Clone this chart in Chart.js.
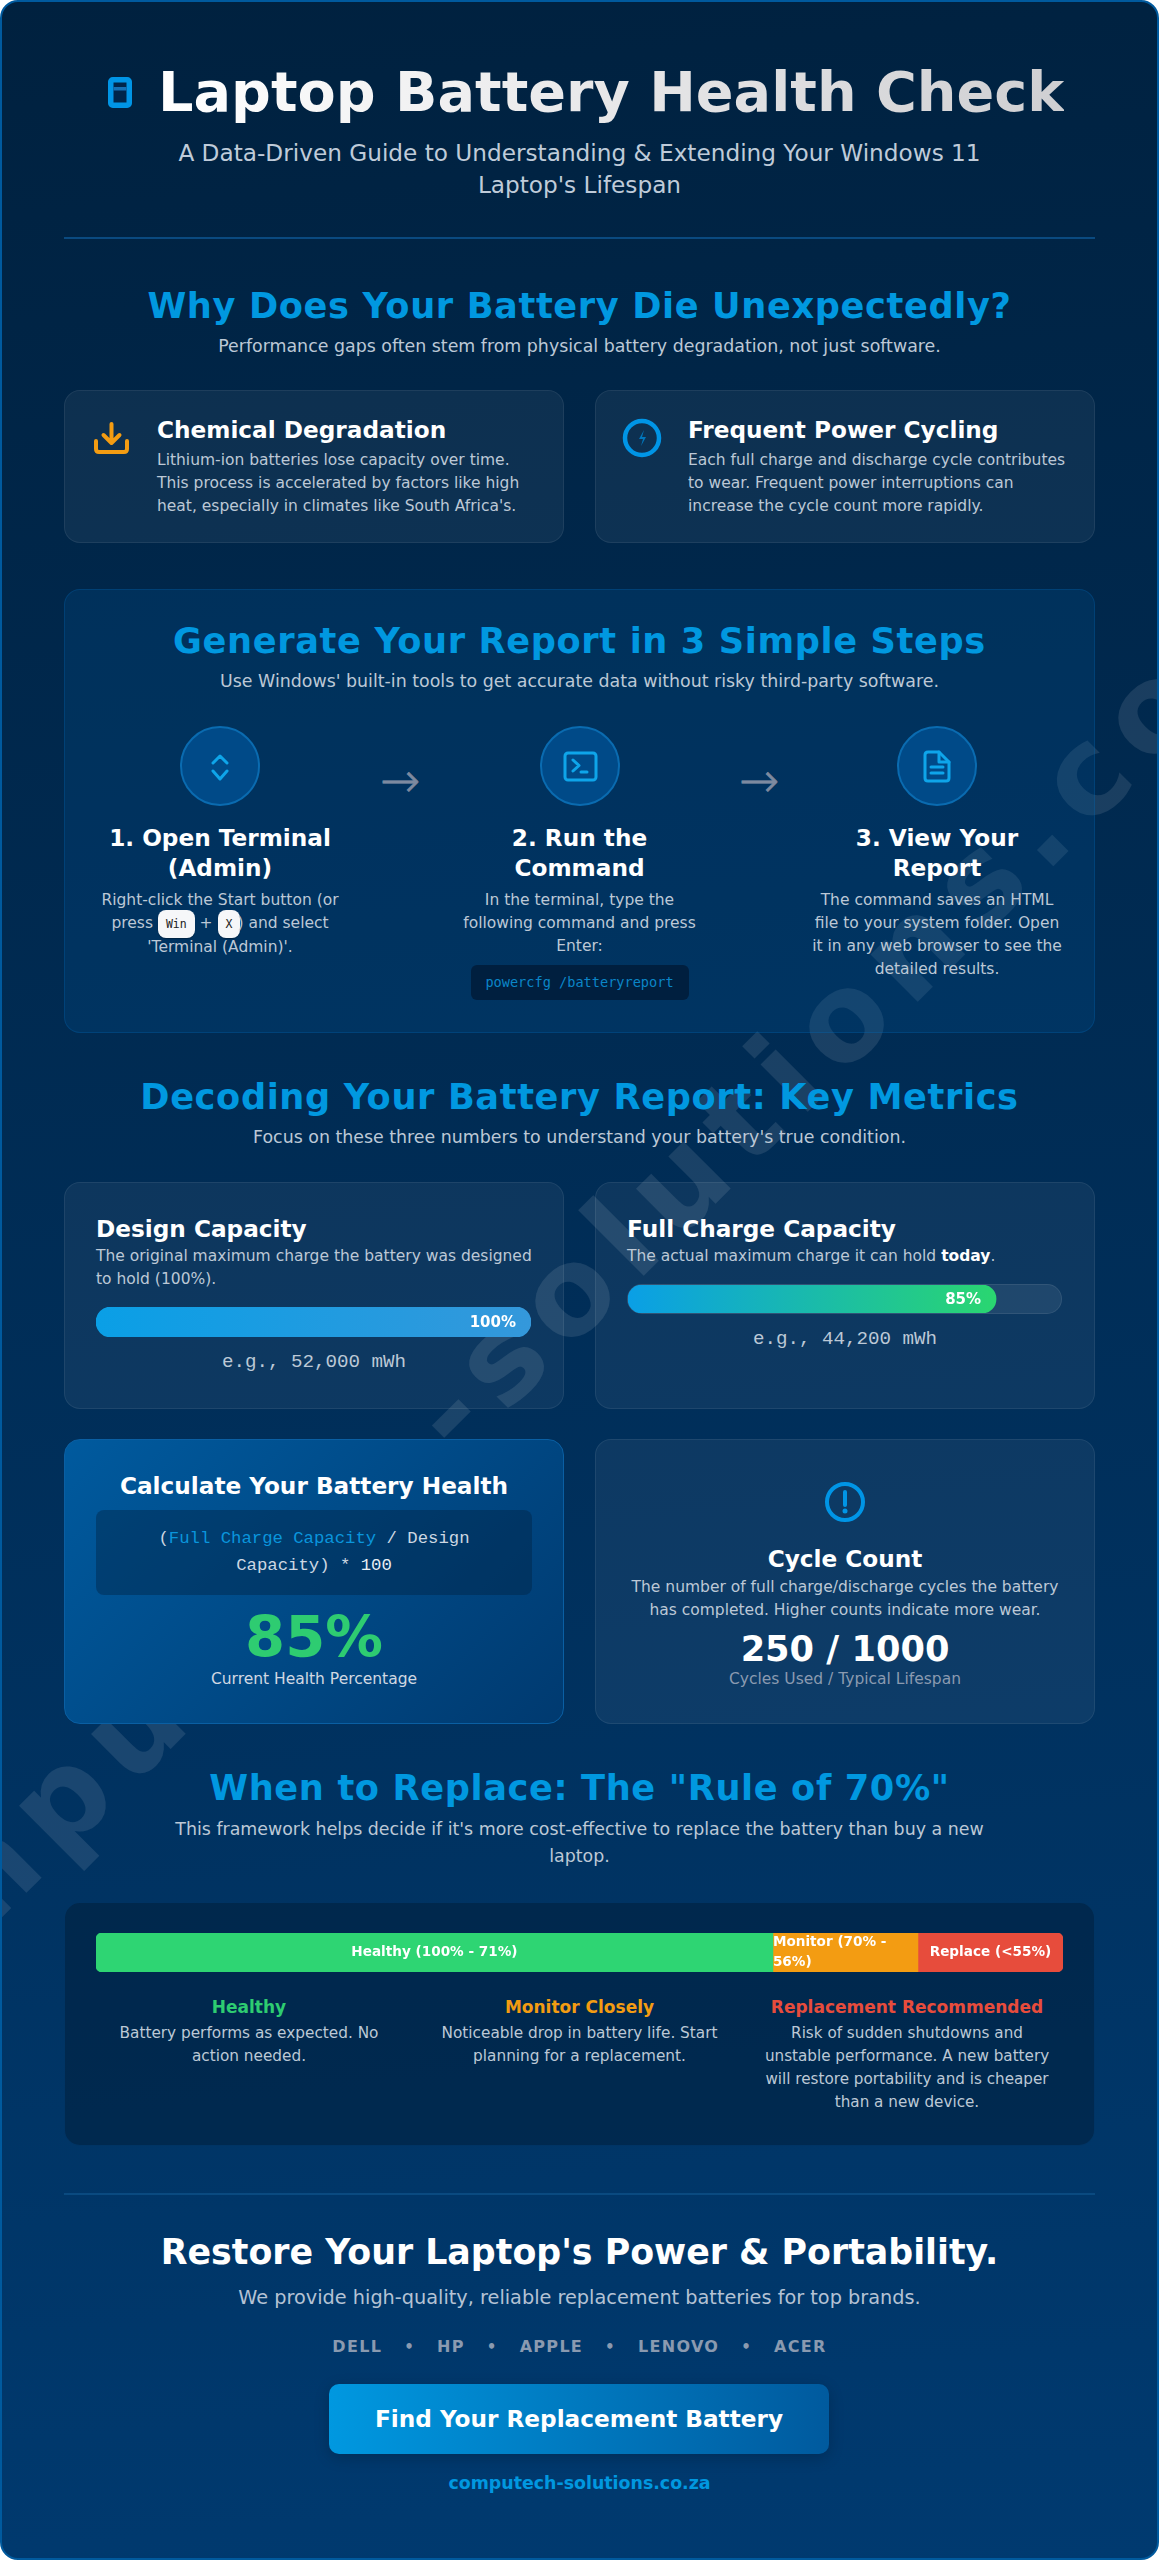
<!DOCTYPE html>
<html lang="en">
<head>
<meta charset="utf-8">
<title>Laptop Battery Health Check</title>
<script src="https://cdn.jsdelivr.net/npm/chart.js@4"></script>
<style>
html,body{margin:0;padding:0;background:#fff}
#page{position:relative;width:1159px;height:2560px;box-sizing:border-box;overflow:hidden;border:2px solid #005a9e;border-radius:18px;
 background:linear-gradient(175deg,#00213f 0%,#003a70 100%);font-family:"DejaVu Sans",sans-serif;color:#bcc8d6}
#page *{box-sizing:border-box}
.abs{position:absolute}
.c{position:absolute;text-align:center;white-space:nowrap}
.l{position:absolute;text-align:left;white-space:nowrap}
.h2{left:0;width:1155px;font-size:35.2px;line-height:44px;font-weight:700;color:#0098e0;letter-spacing:.62px}
.sub{left:0;width:1155px;font-size:17.4px;line-height:27px}
.card{position:absolute;background:rgba(255,255,255,.05);border:1.5px solid rgba(255,255,255,.07);border-radius:16px}
.h3{font-size:23.2px;line-height:30px;font-weight:700;color:#fff}
.p{font-size:15.5px;line-height:23px}
.mono{font-family:"DejaVu Sans Mono",monospace}
.lib{font-family:"Liberation Mono",monospace}
hr{position:absolute;left:62px;width:1031px;margin:0;border:0;height:2px;background:#0a4a80}
.circle{position:absolute;width:80px;height:80px;border-radius:50%;background:#004a88;border:2px solid #0a6bb0;top:724px}
kbd{font-family:"DejaVu Sans Mono",monospace;font-size:11.5px;font-weight:400;background:#f6f7f9;color:#222;padding:7px 8px;border-radius:8px;display:inline;box-shadow:0 1px 1px rgba(0,0,0,.3)}
.arrow{position:absolute;top:748px;font-size:48px;line-height:60px;color:#7d8aa0;width:60px;text-align:center;font-weight:200;-webkit-text-stroke:.7px #7d8aa0}
svg{position:absolute;overflow:visible}
canvas{display:block}
#wm{position:absolute;left:578px;top:1278px;transform:translate(-50%,-50%) rotate(-45deg);font-size:122px;letter-spacing:15px;font-weight:700;color:rgba(255,255,255,.1);white-space:nowrap;line-height:1}
</style>
</head>
<body>
<div id="page">
 <div id="wm">computech-solutions.co.za</div>

 <svg style="left:106px;top:75px" width="24" height="32" viewBox="0 0 24 32"><rect x="2.750" y="2.750" width="18.500" height="25.500" rx="2" fill="#00264a" stroke="#0095e6" stroke-width="5.500"/><rect x="5.500" y="10" width="13" height="3.5" fill="#1671b5"/></svg>
 <div class="l" id="h1" style="left:156px;top:50px;font-size:55.7px;line-height:80px;font-weight:700;background:linear-gradient(90deg,#fff 0%,#cfcfd2 100%);-webkit-background-clip:text;background-clip:text;color:transparent">Laptop Battery Health Check</div>
 <div class="c" style="left:0;width:1155px;top:135px;font-size:23.2px;line-height:31.5px;color:#bfcbd9">A Data-Driven Guide to Understanding &amp; Extending Your Windows 11<br>Laptop's Lifespan</div>
 <hr style="top:235px">

 <div class="c h2" style="top:282px">Why Does Your Battery Die Unexpectedly?</div>
 <div class="c sub" style="top:331px">Performance gaps often stem from physical battery degradation, not just software.</div>

 <div class="card" style="left:62px;top:388px;width:500px;height:153px"></div>
 <div class="card" style="left:593px;top:388px;width:500px;height:153px"></div>
 <svg style="left:92px;top:420px" width="36" height="32" viewBox="0 0 36 32" fill="none" stroke="#f39c12" stroke-width="4" stroke-linecap="round" stroke-linejoin="round"><path d="M17.5 2V20M9.5 13L17.5 21L25.5 13M2 19V27Q2 30 5 30H30Q33 30 33 27V19"/></svg>
 <div class="l h3" style="left:155px;top:413px">Chemical Degradation</div>
 <div class="l p" style="left:155px;top:447px">Lithium-ion batteries lose capacity over time.<br>This process is accelerated by factors like high<br>heat, especially in climates like South Africa's.</div>
 <svg style="left:621px;top:416px" width="38" height="40" viewBox="0 0 38 40" fill="none"><circle cx="19" cy="20" r="17" stroke="#0095e6" stroke-width="4.500"/><path d="M21 12L16 21H20L18 28L23 19H19Z" fill="#0077bd"/></svg>
 <div class="l h3" style="left:686px;top:413px">Frequent Power Cycling</div>
 <div class="l p" style="left:686px;top:447px">Each full charge and discharge cycle contributes<br>to wear. Frequent power interruptions can<br>increase the cycle count more rapidly.</div>

 <div class="card" style="left:62px;top:587px;width:1031px;height:444px;background:rgba(0,90,158,.2);border-color:rgba(0,110,190,.25)"></div>
 <div class="c h2" style="top:617px">Generate Your Report in 3 Simple Steps</div>
 <div class="c sub" style="top:666px">Use Windows' built-in tools to get accurate data without risky third-party software.</div>

 <div class="circle" style="left:178px"></div>
 <div class="circle" style="left:537.500px"></div>
 <div class="circle" style="left:895px"></div>
 <svg style="left:178px;top:724px" width="80" height="80" viewBox="0 0 80 80" fill="none" stroke="#0ea5ea" stroke-width="3" stroke-linecap="round" stroke-linejoin="round"><path d="M33 37L40 30L47 37M33 45L40 53L47 45"/></svg>
 <svg style="left:537.500px;top:724px" width="80" height="80" viewBox="0 0 80 80" fill="none" stroke="#0ea5ea" stroke-width="3" stroke-linecap="round" stroke-linejoin="round"><rect x="25" y="27" width="31" height="27" rx="3"/><path d="M33 34L39 39.500L33 45M41 46H47"/></svg>
 <svg style="left:895px;top:724px" width="80" height="80" viewBox="0 0 80 80" fill="none" stroke="#0ea5ea" stroke-width="3" stroke-linecap="round" stroke-linejoin="round"><path d="M31 26H42L52 36V52Q52 55 49 55H31Q28 55 28 52V29Q28 26 31 26Z"/><path d="M42 26V36H52M34 41H46M34 47H46"/></svg>
 <div class="arrow" style="left:368px">→</div>
 <div class="arrow" style="left:727px">→</div>

 <div class="c" style="left:58px;width:320px;top:821px;font-size:23.2px;line-height:30px;font-weight:700;color:#fff">1. Open Terminal<br>(Admin)</div>
 <div class="c" style="left:417.500px;width:320px;top:821px;font-size:23.2px;line-height:30px;font-weight:700;color:#fff">2. Run the<br>Command</div>
 <div class="c" style="left:775px;width:320px;top:821px;font-size:23.2px;line-height:30px;font-weight:700;color:#fff">3. View Your<br>Report</div>
 <div class="c p" style="left:58px;width:320px;top:887px">Right-click the Start button (or<br>press <kbd>Win</kbd> + <kbd style="margin-right:-3px">X</kbd>) and select<br>'Terminal (Admin)'.</div>
 <div class="c p" style="left:417.500px;width:320px;top:887px">In the terminal, type the<br>following command and press<br>Enter:</div>
 <div class="c p" style="left:775px;width:320px;top:887px">The command saves an HTML<br>file to your system folder. Open<br>it in any web browser to see the<br>detailed results.</div>
 <div class="c mono" style="left:468.500px;top:963px;width:218px;height:35px;background:#001f3f;border-radius:6px;font-size:13.6px;line-height:35px;color:#0b86c8">powercfg /batteryreport</div>

 <div class="c h2" style="top:1073px">Decoding Your Battery Report: Key Metrics</div>
 <div class="c sub" style="top:1122px">Focus on these three numbers to understand your battery's true condition.</div>

 <div class="card" style="left:62px;top:1180px;width:500px;height:227px"></div>
 <div class="card" style="left:593px;top:1180px;width:500px;height:227px"></div>
 <div class="l" style="left:94px;top:1212px;font-size:23.2px;line-height:30px;font-weight:700;color:#fff">Design Capacity</div>
 <div class="l p" style="left:94px;top:1243px">The original maximum charge the battery was designed<br>to hold (100%).</div>
 <div class="abs" id="trackA" style="left:94px;top:1305px;width:435px;height:30px;border-radius:15px;background:rgba(255,255,255,.1)"><canvas id="designBar" width="435" height="30"></canvas></div>
 <div class="c lib" style="left:62px;width:500px;top:1347px;font-size:19.2px;line-height:27px">e.g., 52,000 mWh</div>

 <div class="l" style="left:625px;top:1212px;font-size:23.2px;line-height:30px;font-weight:700;color:#fff">Full Charge Capacity</div>
 <div class="l p" style="left:625px;top:1243px">The actual maximum charge it can hold <b style="color:#fff">today</b>.</div>
 <div class="abs" id="trackB" style="left:625px;top:1282px;width:435px;height:30px;border-radius:15px;background:rgba(255,255,255,.08);border:1px solid rgba(255,255,255,.08)"><canvas id="fullBar" width="433" height="28"></canvas></div>
 <div class="c lib" style="left:593px;width:500px;top:1324px;font-size:19.2px;line-height:27px">e.g., 44,200 mWh</div>

 <div class="card" style="left:62px;top:1437px;width:500px;height:285px;background:linear-gradient(135deg,#005a9e 0%,#003a70 100%);border-color:#0a5fa3"></div>
 <div class="c" style="left:62px;width:500px;top:1469px;font-size:23.2px;line-height:30px;font-weight:700;color:#fff">Calculate Your Battery Health</div>
 <div class="c lib" style="left:94px;top:1508px;width:436px;height:85px;background:rgba(0,32,63,.4);border-radius:8px;font-size:17.3px;line-height:27px;padding-top:15px;color:#cdd7e2">(<span style="color:#0a95dc">Full Charge Capacity</span> / Design<br>Capacity) * <span style="color:#e8eef4">100</span></div>
 <div class="c" style="left:62px;width:500px;top:1596px;font-size:57.6px;line-height:80px;font-weight:700;color:#2ecc71">85%</div>
 <div class="c p" style="left:62px;width:500px;top:1666px;color:#d0d8e2">Current Health Percentage</div>

 <div class="card" style="left:593px;top:1437px;width:500px;height:285px"></div>
 <svg style="left:823px;top:1480px" width="40" height="40" viewBox="0 0 40 40" fill="none"><circle cx="20" cy="20" r="18" stroke="#0095e6" stroke-width="4"/><path d="M20 10V23" stroke="#0095e6" stroke-width="4" stroke-linecap="round"/><circle cx="20" cy="29" r="2.500" fill="#0095e6"/></svg>
 <div class="c" style="left:593px;width:500px;top:1542px;font-size:23.2px;line-height:30px;font-weight:700;color:#fff">Cycle Count</div>
 <div class="c p" style="left:593px;width:500px;top:1574px">The number of full charge/discharge cycles the battery<br>has completed. Higher counts indicate more wear.</div>
 <div class="c" style="left:593px;width:500px;top:1625px;font-size:35.2px;line-height:44px;font-weight:700;color:#fff">250 / 1000</div>
 <div class="c p" style="left:593px;width:500px;top:1666px;color:#8a9ab0">Cycles Used / Typical Lifespan</div>

 <div class="c h2" style="top:1764px">When to Replace: The "Rule of 70%"</div>
 <div class="c sub" style="top:1814px">This framework helps decide if it's more cost-effective to replace the battery than buy a new<br>laptop.</div>

 <div class="card" style="left:62px;top:1900px;width:1031px;height:244px;background:rgba(0,26,51,.45);border-color:rgba(0,80,150,.3)"></div>
 <div class="abs" style="left:94px;top:1931px;width:967px;height:39px"><canvas id="gaugeBar" width="967" height="39"></canvas></div>
 <div class="c" style="left:97px;width:300px;top:1994px;font-size:17px;line-height:23px;font-weight:700;color:#2ecc71">Healthy</div>
 <div class="c" style="left:427.500px;width:300px;top:1994px;font-size:17px;line-height:23px;font-weight:700;color:#f39c12">Monitor Closely</div>
 <div class="c" style="left:755px;width:300px;top:1994px;font-size:17px;line-height:23px;font-weight:700;color:#e74c3c">Replacement Recommended</div>
 <div class="c p" style="left:97px;width:300px;top:2020px;font-size:15.3px">Battery performs as expected. No<br>action needed.</div>
 <div class="c p" style="left:427.500px;width:300px;top:2020px;font-size:15.3px">Noticeable drop in battery life. Start<br>planning for a replacement.</div>
 <div class="c p" style="left:755px;width:300px;top:2020px;font-size:15.2px">Risk of sudden shutdowns and<br>unstable performance. A new battery<br>will restore portability and is cheaper<br>than a new device.</div>

 <hr style="top:2191px">
 <div class="c" style="left:0;width:1155px;top:2228px;font-size:34.8px;line-height:44px;font-weight:700;color:#fff">Restore Your Laptop's Power &amp; Portability.</div>
 <div class="c sub" style="top:2282px;font-size:19.3px;color:#b4c2d4">We provide high-quality, reliable replacement batteries for top brands.</div>
 <div class="c" id="brands" style="left:0;width:1155px;top:2333px;font-size:16px;letter-spacing:1.3px;line-height:24px;font-weight:700;color:#8a9ab0"></div>
 <div class="c" style="left:327px;top:2382px;width:500px;height:70px;border-radius:10px;background:linear-gradient(90deg,#0098e0 0%,#005a9e 100%);box-shadow:0 4px 15px rgba(0,0,0,.2);font-size:23.2px;line-height:70px;font-weight:700;color:#fff">Find Your Replacement Battery</div>
 <div class="c" style="left:0;width:1155px;top:2469px;font-size:17.4px;line-height:24px;font-weight:700;color:#0098e0">computech-solutions.co.za</div>
</div>

<script>
// Chart values
const capacityCategories = ['Capacity'];
const designCapacityPct = [100];
const fullChargePct = [85];
const gaugeCategories = ['Battery health range'];
const gaugeHealthy = [70];
const gaugeMonitor = [15];
const gaugeReplace = [15];
const gaugeNames = ['Healthy (100% - 71%)', ['Monitor (70% -', '56%)'], 'Replace (<55%)'];
const brandNames = ['DELL', 'HP', 'APPLE', 'LENOVO', 'ACER'];

document.getElementById('brands').innerHTML = brandNames
  .map(b => '<span>' + b + '</span>').join('<span style="margin:0 22px;font-size:15px">•</span>');

Chart.defaults.animation = false;

const axesOff = {
  x: {display:false, stacked:true, min:0, max:100, grid:{display:false}},
  y: {display:false, stacked:true, grid:{display:false}}
};
const baseOptions = {
  indexAxis:'y', responsive:false, maintainAspectRatio:false, animation:false,
  layout:{padding:0}, scales:axesOff,
  plugins:{legend:{display:false}, tooltip:{enabled:false}, title:{display:false}}
};

function hGradient(stops){
  return ctx => {
    const chart = ctx.chart, a = chart.chartArea, sx = chart.scales.x;
    const v = ctx.dataset && ctx.dataset.data ? ctx.dataset.data[ctx.dataIndex || 0] : null;
    if(!a || !sx || v == null) return stops[0];
    const end = sx.getPixelForValue(v);
    if(!isFinite(end) || !isFinite(a.left)) return stops[0];
    const g = chart.ctx.createLinearGradient(a.left,0,end,0);
    g.addColorStop(0,stops[0]); g.addColorStop(1,stops[1]);
    return g;
  };
}

// Draws the value at the inside end of each capacity bar
const endLabel = {
  id:'endLabel',
  afterDatasetsDraw(chart){
    const {ctx} = chart;
    const bar = chart.getDatasetMeta(0).data[0];
    ctx.save();
    ctx.font = '700 15px "DejaVu Sans"';
    ctx.fillStyle = '#fff';
    ctx.textAlign = 'right';
    ctx.textBaseline = 'middle';
    ctx.fillText(chart.data.datasets[0].data[0] + '%', bar.x - 15, bar.y + 1);
    ctx.restore();
  }
};

new Chart(document.getElementById('designBar'), {
  type:'bar',
  data:{labels:capacityCategories, datasets:[{label:'Design Capacity', data:designCapacityPct,
    backgroundColor:hGradient(['#0a9fe6','#3498db']), borderRadius:15, borderSkipped:false,
    barPercentage:1, categoryPercentage:1}]},
  options:baseOptions, plugins:[endLabel]
});
new Chart(document.getElementById('fullBar'), {
  type:'bar',
  data:{labels:capacityCategories, datasets:[{label:'Full Charge Capacity', data:fullChargePct,
    backgroundColor:hGradient(['#0a9fe6','#2ad670']), borderRadius:15, borderSkipped:false,
    barPercentage:1, categoryPercentage:1}]},
  options:baseOptions, plugins:[endLabel]
});

// Draws each zone's name inside the stacked gauge
const zoneLabels = {
  id:'zoneLabels',
  afterDatasetsDraw(chart){
    const {ctx} = chart;
    ctx.save();
    ctx.font = '700 13.6px "DejaVu Sans"';
    ctx.fillStyle = '#fff';
    ctx.textBaseline = 'middle';
    gaugeNames.forEach((name,i) => {
      const bar = chart.getDatasetMeta(i).data[0];
      if(Array.isArray(name)){
        ctx.textAlign = 'left';
        ctx.fillText(name[0], bar.base, bar.y - 10);
        ctx.fillText(name[1], bar.base, bar.y + 10);
      } else {
        ctx.textAlign = 'center';
        ctx.fillText(name, (bar.base + bar.x) / 2, bar.y);
      }
    });
    ctx.restore();
  }
};
new Chart(document.getElementById('gaugeBar'), {
  type:'bar',
  data:{labels:gaugeCategories, datasets:[
    {label:'Healthy', data:gaugeHealthy, backgroundColor:'#2ed573', borderSkipped:false,
     borderRadius:{topLeft:6,bottomLeft:6,topRight:0,bottomRight:0}, barPercentage:1, categoryPercentage:1},
    {label:'Monitor', data:gaugeMonitor, backgroundColor:'#f39c12', borderSkipped:false,
     borderRadius:0, barPercentage:1, categoryPercentage:1},
    {label:'Replace', data:gaugeReplace, backgroundColor:'#e74c3c', borderSkipped:false,
     borderRadius:{topLeft:0,bottomLeft:0,topRight:6,bottomRight:6}, barPercentage:1, categoryPercentage:1}
  ]},
  options:baseOptions, plugins:[zoneLabels]
});
</script>
</body>
</html>
